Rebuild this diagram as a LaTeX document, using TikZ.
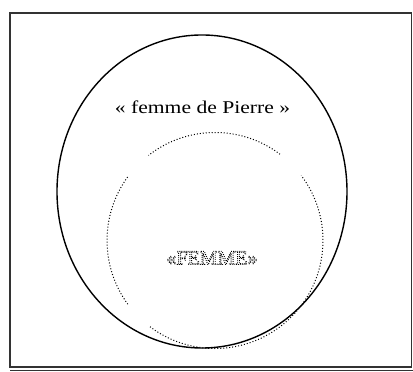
\documentclass[tikz,border=0pt]{standalone}
\usepackage{fontspec}
\setmainfont{Liberation Serif}
\usepackage{graphicx}
\usetikzlibrary{calc}
\newcommand{\dotoutline}[1]{\special{pdf:literal direct 1 Tr 0.9 w [0.9 1.2] 0 d}#1\special{pdf:literal direct 0 Tr [] 0 d}}
\tikzset{
  frameline/.style={draw=black!80, line width=1.6pt},
  outerell/.style={draw=black, line width=1.4pt},
  innerdots/.style={draw=black, line width=1pt, dash pattern=on 1pt off 2pt},
  lbl/.style={inner sep=0pt, font=\fontsize{18}{21}\selectfont},
}
\begin{document}
\begin{tikzpicture}[x=1pt,y=1pt]
\useasboundingbox (0,0) rectangle (413,372);
% frame
\draw[frameline] (10,5) rectangle (411.5,359);
\draw[frameline] (10,1.5) -- (413,1.5);
% outer ellipse
\coordinate (ec) at (202,180.5);
\draw[outerell] (ec) ellipse [x radius=145, y radius=156.5];
% inner dotted circle in three arcs
\coordinate (cc) at (215,131.5);
\draw[innerdots] ($(cc)+(53:108)$) arc [start angle=53, end angle=128, radius=108];
\draw[innerdots] ($(cc)+(144:108)$) arc [start angle=144, end angle=216.5, radius=108];
\draw[innerdots] ($(cc)+(233:108)$) arc [start angle=233, end angle=397, radius=108];
% labels
\node[lbl] (femmep) at (202.5,265) {\scalebox{1.2}[1]{« femme de Pierre »}};
\node[inner sep=0pt, font=\fontsize{20}{24}\selectfont] (femme) at (212,114) {\dotoutline{«FEMME»}};
\end{tikzpicture}
\end{document}
